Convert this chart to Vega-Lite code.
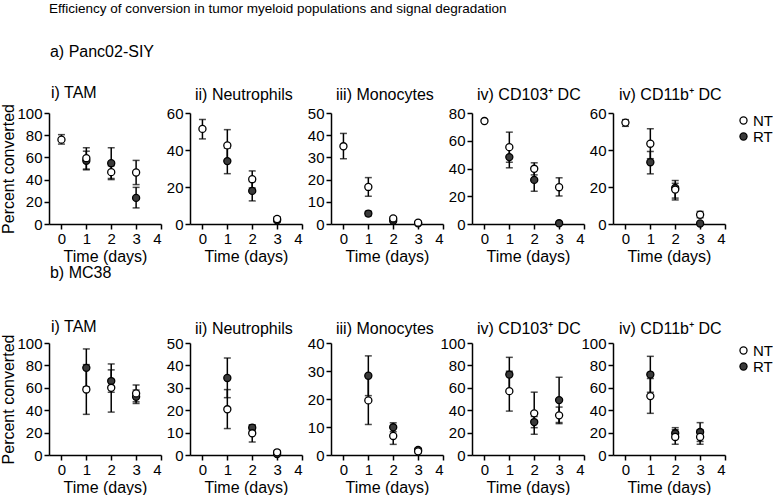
{
  "$schema": "https://vega.github.io/schema/vega-lite/v6.json",
  "padding": {"left": 0, "top": 2, "right": 0, "bottom": 0},
  "background": "white",
  "title": {"text": "Efficiency of conversion in tumor myeloid populations and signal degradation", "fontSize": 13.5, "dx": 48, "offset": 28},
  "data": {"values": [
    {"p":"a1","day":1,"g":"RT","m":57,"lo":48.8,"hi":65.6},
    {"p":"a1","day":2,"g":"RT","m":54.8,"lo":40,"hi":68.7},
    {"p":"a1","day":3,"g":"RT","m":23.5,"lo":14.5,"hi":33},
    {"p":"a1","day":0,"g":"NT","m":76,"lo":72,"hi":80.5},
    {"p":"a1","day":1,"g":"NT","m":59.3,"lo":49.5,"hi":68.7},
    {"p":"a1","day":2,"g":"NT","m":46.7,"lo":41,"hi":52.5},
    {"p":"a1","day":3,"g":"NT","m":46.4,"lo":35.5,"hi":57.3},

    {"p":"a2","day":1,"g":"RT","m":34,"lo":27.2,"hi":41},
    {"p":"a2","day":2,"g":"RT","m":17.9,"lo":12.5,"hi":23},
    {"p":"a2","day":3,"g":"RT","m":2,"lo":1,"hi":3},
    {"p":"a2","day":0,"g":"NT","m":51.4,"lo":46,"hi":56.5},
    {"p":"a2","day":1,"g":"NT","m":42.5,"lo":34,"hi":51},
    {"p":"a2","day":2,"g":"NT","m":24.2,"lo":19.5,"hi":28.7},
    {"p":"a2","day":3,"g":"NT","m":2.7,"lo":1.5,"hi":3.9},

    {"p":"a3","day":1,"g":"RT","m":4.7,"lo":3.7,"hi":5.7},
    {"p":"a3","day":2,"g":"RT","m":1.5,"lo":1,"hi":2},
    {"p":"a3","day":3,"g":"RT","m":0.3},
    {"p":"a3","day":0,"g":"NT","m":35,"lo":29.4,"hi":40.8},
    {"p":"a3","day":1,"g":"NT","m":16.7,"lo":12.5,"hi":20.9},
    {"p":"a3","day":2,"g":"NT","m":2.5,"lo":1.8,"hi":3.2},
    {"p":"a3","day":3,"g":"NT","m":0.6,"lo":0.3,"hi":0.9},

    {"p":"a4","day":1,"g":"RT","m":48.2,"lo":40.5,"hi":55.5},
    {"p":"a4","day":2,"g":"RT","m":31.8,"lo":23.6,"hi":40},
    {"p":"a4","day":3,"g":"RT","m":0.5},
    {"p":"a4","day":0,"g":"NT","m":74.2},
    {"p":"a4","day":1,"g":"NT","m":55.4,"lo":44.5,"hi":66.2},
    {"p":"a4","day":2,"g":"NT","m":39.8,"lo":35.4,"hi":44.1},
    {"p":"a4","day":3,"g":"NT","m":26.5,"lo":20.2,"hi":33.3},

    {"p":"a5","day":1,"g":"RT","m":33.4,"lo":27.1,"hi":39.2},
    {"p":"a5","day":2,"g":"RT","m":19.5,"lo":13,"hi":22},
    {"p":"a5","day":3,"g":"RT","m":0.3},
    {"p":"a5","day":0,"g":"NT","m":54.8,"lo":52.8,"hi":56.4},
    {"p":"a5","day":1,"g":"NT","m":43.4,"lo":35.3,"hi":51.5},
    {"p":"a5","day":2,"g":"NT","m":18.6,"lo":14,"hi":23.5},
    {"p":"a5","day":3,"g":"NT","m":5,"lo":3.4,"hi":6.8},

    {"p":"b1","day":1,"g":"RT","m":77.8,"lo":60.9,"hi":94.7},
    {"p":"b1","day":2,"g":"RT","m":66,"lo":56,"hi":76},
    {"p":"b1","day":3,"g":"RT","m":52,"lo":46,"hi":58},
    {"p":"b1","day":1,"g":"NT","m":58.5,"lo":36.3,"hi":80.7},
    {"p":"b1","day":2,"g":"NT","m":60,"lo":38.3,"hi":81.3},
    {"p":"b1","day":3,"g":"NT","m":55,"lo":47.5,"hi":62.5},

    {"p":"b2","day":1,"g":"RT","m":34.4,"lo":25.6,"hi":43.3},
    {"p":"b2","day":2,"g":"RT","m":12.2,"lo":11,"hi":13.2},
    {"p":"b2","day":3,"g":"RT","m":0.4},
    {"p":"b2","day":1,"g":"NT","m":20.4,"lo":11.8,"hi":29.2},
    {"p":"b2","day":2,"g":"NT","m":9.7,"lo":5.8,"hi":13.5},
    {"p":"b2","day":3,"g":"NT","m":1.2,"lo":0.5,"hi":1.9},

    {"p":"b3","day":1,"g":"RT","m":28.3,"lo":21.2,"hi":35.4},
    {"p":"b3","day":2,"g":"RT","m":9.9,"lo":8.3,"hi":11.5},
    {"p":"b3","day":3,"g":"RT","m":1.8,"lo":1.2,"hi":2.4},
    {"p":"b3","day":1,"g":"NT","m":19.5,"lo":10.9,"hi":28},
    {"p":"b3","day":2,"g":"NT","m":6.8,"lo":3.8,"hi":9.8},
    {"p":"b3","day":3,"g":"NT","m":1.3,"lo":0.6,"hi":2},

    {"p":"b4","day":1,"g":"RT","m":71.8,"lo":56.5,"hi":87.2},
    {"p":"b4","day":2,"g":"RT","m":29.4,"lo":24.4,"hi":34.4},
    {"p":"b4","day":3,"g":"RT","m":49,"lo":29,"hi":69.4},
    {"p":"b4","day":1,"g":"NT","m":57,"lo":39.2,"hi":74.8},
    {"p":"b4","day":2,"g":"NT","m":37.2,"lo":18.5,"hi":56.1},
    {"p":"b4","day":3,"g":"NT","m":35.4,"lo":28,"hi":42.8},

    {"p":"b5","day":1,"g":"RT","m":71.8,"lo":56,"hi":88.1},
    {"p":"b5","day":2,"g":"RT","m":19.4,"lo":14.5,"hi":24.4},
    {"p":"b5","day":3,"g":"RT","m":20.5,"lo":12.1,"hi":28.9},
    {"p":"b5","day":1,"g":"NT","m":52.6,"lo":37.2,"hi":68.3},
    {"p":"b5","day":2,"g":"NT","m":16.1,"lo":9.6,"hi":22.6},
    {"p":"b5","day":3,"g":"NT","m":16.1,"lo":9.6,"hi":22.6}
  ]},
  "spacing": 1,
  "resolve": {"legend": {"fill": "independent"}},
  "vconcat": [
    {
      "title": {"text": "a) Panc02-SIY", "fontSize": 16, "dx": 49, "offset": 25},
      "bounds": "flush",
      "spacing": 29,
      "resolve": {"legend": {"fill": "independent"}},
      "hconcat": [
        {
          "width": 112, "height": 111,
          "title": {"text": "i) TAM", "frame": "group", "dx": 2, "fontSize": 16, "offset": 3},
          "transform": [{"filter": "datum.p === 'a1'"}],
          "encoding": {"x": {"field": "day", "type": "quantitative", "scale": {"domain": [-0.5, 4], "nice": false, "zero": false}, "axis": {"values": [0,1,2,3,4], "title": "Time (days)"}}},
          "layer": [
            {"transform": [{"filter": "isValid(datum.lo)"}],
             "mark": {"type": "errorbar", "ticks": {"size": 7}, "thickness": 1.5, "color": "black"},
             "encoding": {"y": {"field": "lo", "type": "quantitative", "scale": {"domain": [0, 100], "nice": false}, "axis": {"values": [0,20,40,60,80,100], "title": "Percent converted"}}, "y2": {"field": "hi"}}},
            {"mark": {"type": "point", "filled": true, "stroke": "black", "strokeWidth": 1.3, "size": 50, "opacity": 1},
             "encoding": {"y": {"field": "m", "type": "quantitative", "scale": {"domain": [0, 100], "nice": false}, "axis": {"values": [0,20,40,60,80,100], "title": "Percent converted"}},
                          "fill": {"field": "g", "type": "nominal", "scale": {"domain": ["NT","RT"], "range": ["white","#3a3a3a"]}, "legend": null}}}
          ]
        },
        {
          "width": 112, "height": 111,
          "title": {"text": "ii) Neutrophils", "frame": "group", "dx": 5, "fontSize": 16, "offset": 3},
          "transform": [{"filter": "datum.p === 'a2'"}],
          "encoding": {"x": {"field": "day", "type": "quantitative", "scale": {"domain": [-0.5, 4], "nice": false, "zero": false}, "axis": {"values": [0,1,2,3,4], "title": "Time (days)"}}},
          "layer": [
            {"transform": [{"filter": "isValid(datum.lo)"}],
             "mark": {"type": "errorbar", "ticks": {"size": 7}, "thickness": 1.5, "color": "black"},
             "encoding": {"y": {"field": "lo", "type": "quantitative", "scale": {"domain": [0, 60], "nice": false}, "axis": {"values": [0,20,40,60], "title": null}}, "y2": {"field": "hi"}}},
            {"mark": {"type": "point", "filled": true, "stroke": "black", "strokeWidth": 1.3, "size": 50, "opacity": 1},
             "encoding": {"y": {"field": "m", "type": "quantitative", "scale": {"domain": [0, 60], "nice": false}, "axis": {"values": [0,20,40,60], "title": null}},
                          "fill": {"field": "g", "type": "nominal", "scale": {"domain": ["NT","RT"], "range": ["white","#3a3a3a"]}, "legend": null}}}
          ]
        },
        {
          "width": 112, "height": 111,
          "title": {"text": "iii) Monocytes", "frame": "group", "dx": 5, "fontSize": 16, "offset": 3},
          "transform": [{"filter": "datum.p === 'a3'"}],
          "encoding": {"x": {"field": "day", "type": "quantitative", "scale": {"domain": [-0.5, 4], "nice": false, "zero": false}, "axis": {"values": [0,1,2,3,4], "title": "Time (days)"}}},
          "layer": [
            {"transform": [{"filter": "isValid(datum.lo)"}],
             "mark": {"type": "errorbar", "ticks": {"size": 7}, "thickness": 1.5, "color": "black"},
             "encoding": {"y": {"field": "lo", "type": "quantitative", "scale": {"domain": [0, 50], "nice": false}, "axis": {"values": [0,10,20,30,40,50], "title": null}}, "y2": {"field": "hi"}}},
            {"mark": {"type": "point", "filled": true, "stroke": "black", "strokeWidth": 1.3, "size": 50, "opacity": 1},
             "encoding": {"y": {"field": "m", "type": "quantitative", "scale": {"domain": [0, 50], "nice": false}, "axis": {"values": [0,10,20,30,40,50], "title": null}},
                          "fill": {"field": "g", "type": "nominal", "scale": {"domain": ["NT","RT"], "range": ["white","#3a3a3a"]}, "legend": null}}}
          ]
        },
        {
          "width": 112, "height": 111,
          "title": {"text": "iv) CD103⁺ DC", "frame": "group", "dx": 5, "fontSize": 16, "offset": 3},
          "transform": [{"filter": "datum.p === 'a4'"}],
          "encoding": {"x": {"field": "day", "type": "quantitative", "scale": {"domain": [-0.5, 4], "nice": false, "zero": false}, "axis": {"values": [0,1,2,3,4], "title": "Time (days)"}}},
          "layer": [
            {"transform": [{"filter": "isValid(datum.lo)"}],
             "mark": {"type": "errorbar", "ticks": {"size": 7}, "thickness": 1.5, "color": "black"},
             "encoding": {"y": {"field": "lo", "type": "quantitative", "scale": {"domain": [0, 80], "nice": false}, "axis": {"values": [0,20,40,60,80], "title": null}}, "y2": {"field": "hi"}}},
            {"mark": {"type": "point", "filled": true, "stroke": "black", "strokeWidth": 1.3, "size": 50, "opacity": 1},
             "encoding": {"y": {"field": "m", "type": "quantitative", "scale": {"domain": [0, 80], "nice": false}, "axis": {"values": [0,20,40,60,80], "title": null}},
                          "fill": {"field": "g", "type": "nominal", "scale": {"domain": ["NT","RT"], "range": ["white","#3a3a3a"]}, "legend": null}}}
          ]
        },
        {
          "width": 112, "height": 111,
          "title": {"text": "iv) CD11b⁺ DC", "frame": "group", "dx": 6, "fontSize": 16, "offset": 3},
          "transform": [{"filter": "datum.p === 'a5'"}],
          "encoding": {"x": {"field": "day", "type": "quantitative", "scale": {"domain": [-0.5, 4], "nice": false, "zero": false}, "axis": {"values": [0,1,2,3,4], "title": "Time (days)"}}},
          "layer": [
            {"transform": [{"filter": "isValid(datum.lo)"}],
             "mark": {"type": "errorbar", "ticks": {"size": 7}, "thickness": 1.5, "color": "black"},
             "encoding": {"y": {"field": "lo", "type": "quantitative", "scale": {"domain": [0, 60], "nice": false}, "axis": {"values": [0,20,40,60], "title": null}}, "y2": {"field": "hi"}}},
            {"mark": {"type": "point", "filled": true, "stroke": "black", "strokeWidth": 1.3, "size": 50, "opacity": 1},
             "encoding": {"y": {"field": "m", "type": "quantitative", "scale": {"domain": [0, 60], "nice": false}, "axis": {"values": [0,20,40,60], "title": null}},
                          "fill": {"field": "g", "type": "nominal", "scale": {"domain": ["NT","RT"], "range": ["white","#3a3a3a"]},
                                   "legend": {"orient": "right", "offset": 11, "title": null, "padding": 0, "labelFontSize": 15, "symbolType": "circle", "symbolSize": 50, "symbolStrokeColor": "black", "symbolStrokeWidth": 1.3, "rowPadding": 0, "labelOffset": 2}}}}
          ]
        }
      ]
    },
    {
      "title": {"text": "b) MC38", "fontSize": 16, "dx": 49, "offset": 38},
      "bounds": "flush",
      "spacing": 29,
      "resolve": {"legend": {"fill": "independent"}},
      "hconcat": [
        {
          "width": 112, "height": 112,
          "title": {"text": "i) TAM", "frame": "group", "dx": 2, "fontSize": 16, "offset": -1},
          "transform": [{"filter": "datum.p === 'b1'"}],
          "encoding": {"x": {"field": "day", "type": "quantitative", "scale": {"domain": [-0.5, 4], "nice": false, "zero": false}, "axis": {"values": [0,1,2,3,4], "title": "Time (days)"}}},
          "layer": [
            {"transform": [{"filter": "isValid(datum.lo)"}],
             "mark": {"type": "errorbar", "ticks": {"size": 7}, "thickness": 1.5, "color": "black"},
             "encoding": {"y": {"field": "lo", "type": "quantitative", "scale": {"domain": [0, 100], "nice": false}, "axis": {"values": [0,20,40,60,80,100], "title": "Percent converted"}}, "y2": {"field": "hi"}}},
            {"mark": {"type": "point", "filled": true, "stroke": "black", "strokeWidth": 1.3, "size": 50, "opacity": 1},
             "encoding": {"y": {"field": "m", "type": "quantitative", "scale": {"domain": [0, 100], "nice": false}, "axis": {"values": [0,20,40,60,80,100], "title": "Percent converted"}},
                          "fill": {"field": "g", "type": "nominal", "scale": {"domain": ["NT","RT"], "range": ["white","#3a3a3a"]}, "legend": null}}}
          ]
        },
        {
          "width": 112, "height": 112,
          "title": {"text": "ii) Neutrophils", "frame": "group", "dx": 5, "fontSize": 16, "offset": -1},
          "transform": [{"filter": "datum.p === 'b2'"}],
          "encoding": {"x": {"field": "day", "type": "quantitative", "scale": {"domain": [-0.5, 4], "nice": false, "zero": false}, "axis": {"values": [0,1,2,3,4], "title": "Time (days)"}}},
          "layer": [
            {"transform": [{"filter": "isValid(datum.lo)"}],
             "mark": {"type": "errorbar", "ticks": {"size": 7}, "thickness": 1.5, "color": "black"},
             "encoding": {"y": {"field": "lo", "type": "quantitative", "scale": {"domain": [0, 50], "nice": false}, "axis": {"values": [0,10,20,30,40,50], "title": null}}, "y2": {"field": "hi"}}},
            {"mark": {"type": "point", "filled": true, "stroke": "black", "strokeWidth": 1.3, "size": 50, "opacity": 1},
             "encoding": {"y": {"field": "m", "type": "quantitative", "scale": {"domain": [0, 50], "nice": false}, "axis": {"values": [0,10,20,30,40,50], "title": null}},
                          "fill": {"field": "g", "type": "nominal", "scale": {"domain": ["NT","RT"], "range": ["white","#3a3a3a"]}, "legend": null}}}
          ]
        },
        {
          "width": 112, "height": 112,
          "title": {"text": "iii) Monocytes", "frame": "group", "dx": 5, "fontSize": 16, "offset": -1},
          "transform": [{"filter": "datum.p === 'b3'"}],
          "encoding": {"x": {"field": "day", "type": "quantitative", "scale": {"domain": [-0.5, 4], "nice": false, "zero": false}, "axis": {"values": [0,1,2,3,4], "title": "Time (days)"}}},
          "layer": [
            {"transform": [{"filter": "isValid(datum.lo)"}],
             "mark": {"type": "errorbar", "ticks": {"size": 7}, "thickness": 1.5, "color": "black"},
             "encoding": {"y": {"field": "lo", "type": "quantitative", "scale": {"domain": [0, 40], "nice": false}, "axis": {"values": [0,10,20,30,40], "title": null}}, "y2": {"field": "hi"}}},
            {"mark": {"type": "point", "filled": true, "stroke": "black", "strokeWidth": 1.3, "size": 50, "opacity": 1},
             "encoding": {"y": {"field": "m", "type": "quantitative", "scale": {"domain": [0, 40], "nice": false}, "axis": {"values": [0,10,20,30,40], "title": null}},
                          "fill": {"field": "g", "type": "nominal", "scale": {"domain": ["NT","RT"], "range": ["white","#3a3a3a"]}, "legend": null}}}
          ]
        },
        {
          "width": 112, "height": 112,
          "title": {"text": "iv) CD103⁺ DC", "frame": "group", "dx": 5, "fontSize": 16, "offset": -1},
          "transform": [{"filter": "datum.p === 'b4'"}],
          "encoding": {"x": {"field": "day", "type": "quantitative", "scale": {"domain": [-0.5, 4], "nice": false, "zero": false}, "axis": {"values": [0,1,2,3,4], "title": "Time (days)"}}},
          "layer": [
            {"transform": [{"filter": "isValid(datum.lo)"}],
             "mark": {"type": "errorbar", "ticks": {"size": 7}, "thickness": 1.5, "color": "black"},
             "encoding": {"y": {"field": "lo", "type": "quantitative", "scale": {"domain": [0, 100], "nice": false}, "axis": {"values": [0,20,40,60,80,100], "title": null}}, "y2": {"field": "hi"}}},
            {"mark": {"type": "point", "filled": true, "stroke": "black", "strokeWidth": 1.3, "size": 50, "opacity": 1},
             "encoding": {"y": {"field": "m", "type": "quantitative", "scale": {"domain": [0, 100], "nice": false}, "axis": {"values": [0,20,40,60,80,100], "title": null}},
                          "fill": {"field": "g", "type": "nominal", "scale": {"domain": ["NT","RT"], "range": ["white","#3a3a3a"]}, "legend": null}}}
          ]
        },
        {
          "width": 112, "height": 112,
          "title": {"text": "iv) CD11b⁺ DC", "frame": "group", "dx": 6, "fontSize": 16, "offset": -1},
          "transform": [{"filter": "datum.p === 'b5'"}],
          "encoding": {"x": {"field": "day", "type": "quantitative", "scale": {"domain": [-0.5, 4], "nice": false, "zero": false}, "axis": {"values": [0,1,2,3,4], "title": "Time (days)"}}},
          "layer": [
            {"transform": [{"filter": "isValid(datum.lo)"}],
             "mark": {"type": "errorbar", "ticks": {"size": 7}, "thickness": 1.5, "color": "black"},
             "encoding": {"y": {"field": "lo", "type": "quantitative", "scale": {"domain": [0, 100], "nice": false}, "axis": {"values": [0,20,40,60,80,100], "title": null}}, "y2": {"field": "hi"}}},
            {"mark": {"type": "point", "filled": true, "stroke": "black", "strokeWidth": 1.3, "size": 50, "opacity": 1},
             "encoding": {"y": {"field": "m", "type": "quantitative", "scale": {"domain": [0, 100], "nice": false}, "axis": {"values": [0,20,40,60,80,100], "title": null}},
                          "fill": {"field": "g", "type": "nominal", "scale": {"domain": ["NT","RT"], "range": ["white","#3a3a3a"]},
                                   "legend": {"orient": "right", "offset": 11, "title": null, "padding": 0, "labelFontSize": 15, "symbolType": "circle", "symbolSize": 50, "symbolStrokeColor": "black", "symbolStrokeWidth": 1.3, "rowPadding": 0, "labelOffset": 2}}}}
          ]
        }
      ]
    }
  ],
  "config": {
    "font": "Liberation Sans",
    "view": {"stroke": null},
    "axis": {"grid": false, "domainColor": "black", "tickColor": "black", "labelColor": "black", "titleColor": "black", "labelFontSize": 15, "titleFontSize": 16, "titleFontWeight": "normal", "tickSize": 5, "domainWidth": 1.5, "tickWidth": 1.5, "labelPadding": 2, "labelFont": "Liberation Sans", "titleFont": "Liberation Sans"},
    "axisY": {"titlePadding": 0},
    "axisX": {"titlePadding": 2},
    "title": {"font": "Liberation Sans", "fontWeight": "normal", "color": "black", "anchor": "start"},
    "legend": {"labelFont": "Liberation Sans", "labelColor": "black"}
  }
}
